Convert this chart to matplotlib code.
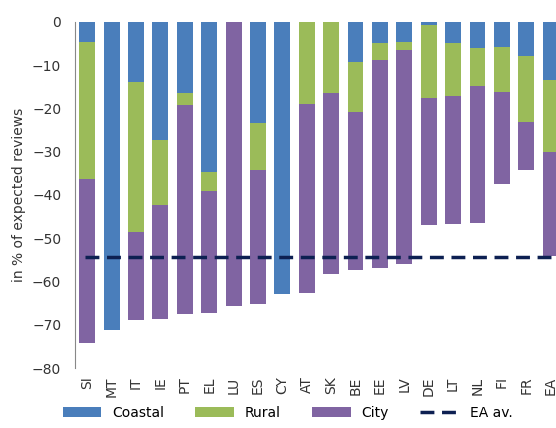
import matplotlib
matplotlib.use("Agg")
import matplotlib.pyplot as plt
import numpy as np

countries = ["SI", "MT", "IT", "IE", "PT", "EL", "LU", "ES", "CY", "AT",
             "SK", "BE", "EE", "LV", "DE", "LT", "NL", "FI", "FR", "EA"]
coastal = [-4.6, -71.2, -13.9, -27.3, -16.4, -34.7, 0, -23.4, -62.9, 0,
           0, -9.2, -4.9, -4.6, -0.7, -4.9, -6.0, -5.8, -7.9, -13.4]
rural = [-31.6, 0, -34.6, -15.0, -2.8, -4.4, 0, -10.8, 0, -19.0,
         -16.4, -11.6, -3.9, -1.9, -16.9, -12.2, -8.8, -10.4, -15.2, -16.7]
city = [-38.0, 0, -20.4, -26.4, -48.3, -28.2, -65.7, -31.0, 0, -43.7,
        -41.9, -36.5, -48.1, -49.5, -29.3, -29.6, -31.7, -21.3, -11.1, -24.0]
ea_avg = -54.3

fig = plt.figure(figsize=(5.56, 4.28), dpi=100)
ax = fig.add_axes([0.135, 0.14, 0.865, 0.809])
x = np.arange(len(countries))
w = 0.65
c = np.array(coastal)
r = np.array(rural)
ax.bar(x, c, w, color="#4a7ebb", label="Coastal")
ax.bar(x, r, w, bottom=c, color="#9bbb59", label="Rural")
ax.bar(x, city, w, bottom=c + r, color="#8064a2", label="City")
ax.axhline(ea_avg, xmin=0.02, xmax=1, color="#0d2052", lw=2.5,
           dashes=(4, 2.2), label="EA av.")

ax.set_xlim(-0.5, 19.22)
ax.set_ylim(-80, 0)
ax.set_yticks(range(-80, 1, 10))
ax.set_xticks(x)
ax.set_xticklabels(countries, rotation=90)
ax.tick_params(axis="x", length=0, pad=6)
ax.tick_params(axis="y", length=0, pad=10)
ax.tick_params(labelsize=10, colors="#333333")
for s in ["top", "right", "bottom"]:
    ax.spines[s].set_visible(False)
ax.spines["left"].set_color("#888888")
ax.set_ylabel("in % of expected reviews", fontsize=10, color="#333333")

handles, labels = ax.get_legend_handles_labels()
order = [1, 2, 3, 0]
fig.legend([handles[i] for i in order], [labels[i] for i in order],
           loc="lower left", bbox_to_anchor=(0.09, -0.01), ncol=4,
           frameon=False, fontsize=10, handlelength=2.8, columnspacing=2.2,
           handleheight=0.8)
fig.savefig("out.png", dpi=100)
